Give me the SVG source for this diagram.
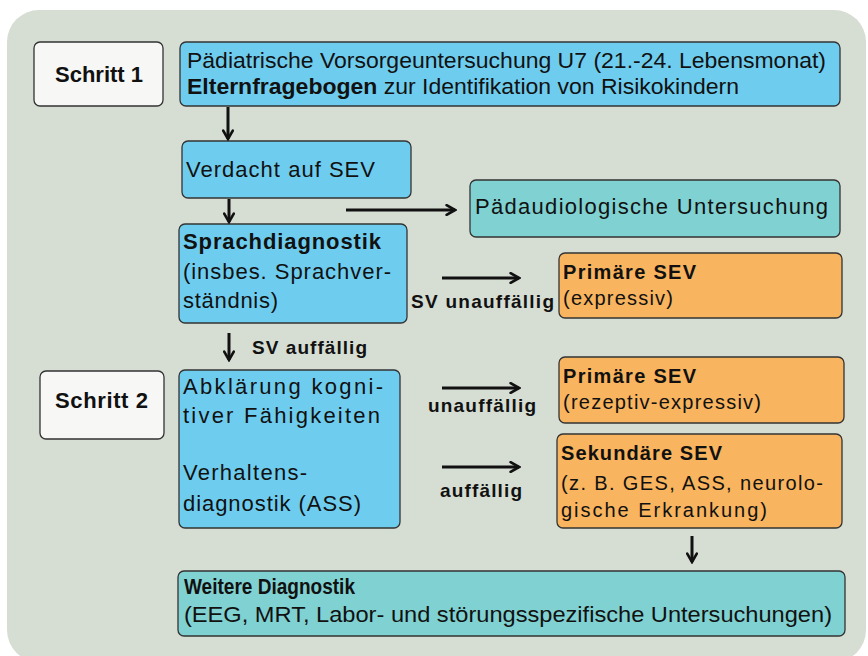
<svg xmlns="http://www.w3.org/2000/svg" width="868" height="656" viewBox="0 0 868 656">
<defs>
<marker id="ah" viewBox="0 0 10 10" refX="8" refY="5" markerWidth="4" markerHeight="4" markerUnits="strokeWidth" orient="auto">
<path d="M1,1 L8,5 L1,9" fill="none" stroke="#111" stroke-width="2.2" stroke-linecap="round" stroke-linejoin="miter"/>
</marker>
</defs>
<style>
.box{stroke:#333;stroke-width:1.3}
.blue{fill:#6ecdef}
.teal{fill:#80d1d1}
.orange{fill:#f8b45e}
.white{fill:#f7f7f5}
text{font-family:"Liberation Sans",Arial,sans-serif;fill:#111;font-size:22px}
.b{font-weight:bold}
.o{font-size:20px}
.l{font-size:19px;font-weight:bold}
.con{stroke:#111;stroke-width:3;fill:none;marker-end:url(#ah)}
</style>
<rect x="0" y="0" width="868" height="656" fill="#ffffff"/>
<rect x="7" y="10" width="859" height="652" rx="32" fill="#d6ddd3"/>

<g id="schritt1">
<rect class="box white" x="34" y="42" width="129" height="64" rx="6"/>
<text class="b" x="55" y="82" textLength="88" lengthAdjust="spacingAndGlyphs" font-size="21">Schritt 1</text>
</g>
<g id="u7">
<rect class="box blue" x="180" y="42" width="660" height="64" rx="6"/>
<text x="187" y="68" textLength="639" lengthAdjust="spacingAndGlyphs" font-size="23">Pädiatrische Vorsorgeuntersuchung U7 (21.-24. Lebensmonat)</text>
<text x="187" y="94" textLength="552" lengthAdjust="spacingAndGlyphs" font-size="23"><tspan class="b">Elternfragebogen</tspan> zur Identifikation von Risikokindern</text>
</g>
<g id="verdacht">
<rect class="box blue" x="182" y="141" width="229" height="57" rx="6"/>
<text x="186" y="177" textLength="189" lengthAdjust="spacing">Verdacht auf SEV</text>
</g>
<g id="paedaudio">
<rect class="box teal" x="470" y="180" width="370" height="57" rx="6"/>
<text x="475" y="214" textLength="353" lengthAdjust="spacing" font-size="21">Pädaudiologische Untersuchung</text>
</g>
<g id="sprach">
<rect class="box blue" x="179" y="224" width="228" height="99" rx="6"/>
<text class="b" x="183" y="249" textLength="198" lengthAdjust="spacing" font-size="21">Sprachdiagnostik</text>
<text x="183" y="279" textLength="208" lengthAdjust="spacing" font-size="21">(insbes. Sprachver-</text>
<text x="183" y="308" textLength="95" lengthAdjust="spacing" font-size="21">ständnis)</text>
</g>
<g id="primaer1">
<rect class="box orange" x="559" y="253" width="283" height="65" rx="6"/>
<text class="b o" x="563" y="279" textLength="133" lengthAdjust="spacing">Primäre SEV</text>
<text class="o" x="563" y="305" textLength="110" lengthAdjust="spacing">(expressiv)</text>
</g>
<g id="schritt2">
<rect class="box white" x="40" y="371" width="124" height="68" rx="6"/>
<text class="b" x="55" y="408" textLength="93" lengthAdjust="spacing" font-size="20">Schritt 2</text>
</g>
<g id="abklaerung">
<rect class="box blue" x="179" y="370" width="221" height="158" rx="6"/>
<text x="183" y="394" textLength="200" lengthAdjust="spacing">Abklärung kogni-</text>
<text x="183" y="423" textLength="197" lengthAdjust="spacing">tiver Fähigkeiten</text>
<text x="183" y="480" textLength="124" lengthAdjust="spacing">Verhaltens-</text>
<text x="183" y="511" textLength="178" lengthAdjust="spacing">diagnostik (ASS)</text>
</g>
<g id="primaer2">
<rect class="box orange" x="559" y="357" width="285" height="66" rx="6"/>
<text class="b o" x="563" y="383" textLength="133" lengthAdjust="spacing">Primäre SEV</text>
<text class="o" x="563" y="409" textLength="198" lengthAdjust="spacing">(rezeptiv-expressiv)</text>
</g>
<g id="sekundaer">
<rect class="box orange" x="557" y="434" width="285" height="94" rx="6"/>
<text class="b o" x="561" y="460" textLength="161" lengthAdjust="spacing">Sekundäre SEV</text>
<text class="o" x="561" y="490" textLength="262" lengthAdjust="spacing">(z. B. GES, ASS, neurolo-</text>
<text class="o" x="561" y="517" textLength="206" lengthAdjust="spacing">gische Erkrankung)</text>
</g>
<g id="weitere">
<rect class="box teal" x="178" y="571" width="667" height="65" rx="6"/>
<text class="b" x="184" y="594" textLength="171" lengthAdjust="spacingAndGlyphs">Weitere Diagnostik</text>
<text x="184" y="622" textLength="648" lengthAdjust="spacingAndGlyphs">(EEG, MRT, Labor- und störungsspezifische Untersuchungen)</text>
</g>

<g id="connectors">
<line class="con" x1="228" y1="107" x2="228" y2="139"/>
<line class="con" x1="229" y1="199" x2="229" y2="222"/>
<line class="con" x1="346" y1="210" x2="455" y2="210"/>
<line class="con" x1="442" y1="278" x2="519" y2="278"/>
<line class="con" x1="229" y1="333" x2="229" y2="360"/>
<line class="con" x1="442" y1="388" x2="519" y2="388"/>
<line class="con" x1="442" y1="467" x2="519" y2="467"/>
<line class="con" x1="692" y1="536" x2="692" y2="562"/>
<text class="l" x="411" y="308" textLength="143" lengthAdjust="spacing">SV unauffällig</text>
<text class="l" x="252" y="354" textLength="115" lengthAdjust="spacing">SV auffällig</text>
<text class="l" x="428" y="412" textLength="108" lengthAdjust="spacing">unauffällig</text>
<text class="l" x="440" y="497" textLength="82" lengthAdjust="spacing">auffällig</text>
</g>
</svg>
